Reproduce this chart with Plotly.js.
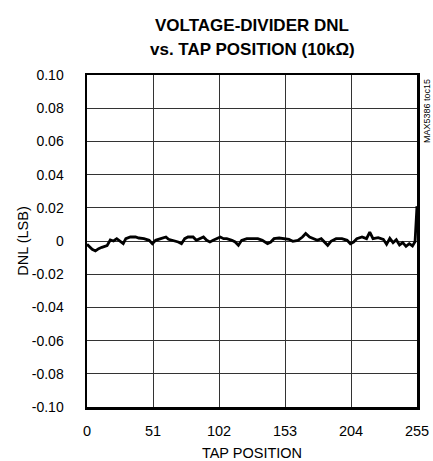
<!DOCTYPE html>
<html>
<head>
<meta charset="utf-8">
<script src="https://cdn.plot.ly/plotly-3.0.1.min.js"></script>
<style>html,body{margin:0;padding:0;background:#fff;}#chart{width:433px;height:461px;}</style>
</head>
<body>
<div id="chart"></div>
<script>
const tapPosition = [0, 2, 4, 6.5, 9, 11.5, 15.5, 18, 20.5, 23, 26, 28, 30, 33.5, 37.5, 40, 44, 48, 50.5, 53, 57, 61,
  63, 66.5, 70.5, 73, 75.5, 78, 82, 84.5, 87, 90, 92.5, 95, 97.5, 100, 103, 105.5, 108, 112, 114.5, 117, 119.5, 123.5, 128,
  132, 135.5, 139.5, 142, 144.5, 148.5, 152.5, 156, 159, 163, 166.5, 169, 172, 174.5, 178, 181, 183.5, 186, 188.5, 192.5,
  197, 201, 203.5, 206, 208.5, 212.5, 216, 218.5, 221, 225, 229, 231.5, 234, 236.5, 239, 241.5, 244, 246.5, 249, 251.5, 253.5, 255];
const dnlLSB = [-0.0020, -0.0036, -0.0050, -0.0060, -0.0046, -0.0038, -0.0028, 0.0006, 0.0000, 0.0014, -0.0006, -0.0016, 0.0014, 0.0024, 0.0024, 0.0018, 0.0014, 0.0004, -0.0016, 0.0004, 0.0014, 0.0024,
  0.0010, 0.0004, -0.0006, -0.0016, 0.0014, 0.0024, 0.0024, 0.0004, 0.0014, 0.0024, 0.0004, -0.0006, 0.0004, 0.0014, 0.0024, 0.0014, 0.0014, 0.0004, -0.0006, -0.0026, 0.0004, 0.0014, 0.0012,
  0.0014, 0.0004, -0.0016, -0.0006, 0.0014, 0.0018, 0.0014, 0.0010, -0.0002, 0.0004, 0.0024, 0.0045, 0.0024, 0.0014, 0.0004, 0.0014, -0.0006, -0.0026, -0.0002, 0.0014,
  0.0014, 0.0004, -0.0016, -0.0006, 0.0014, 0.0024, 0.0014, 0.0054, 0.0014, 0.0020, 0.0010, -0.0020, 0.0016, -0.0010, 0.0008, -0.0024, -0.0010, -0.0032, -0.0016, -0.0030, -0.0004, 0.0210];
const xTickVals = [0, 51, 102, 153, 204, 255];
const xTickText = ['0', '51', '102', '153', '204', '255'];
const yTickVals = [0.10, 0.08, 0.06, 0.04, 0.02, 0, -0.02, -0.04, -0.06, -0.08, -0.10];
const yTickText = ['0.10', '0.08', '0.06', '0.04', '0.02', '0', '-0.02', '-0.04', '-0.06', '-0.08', '-0.10'];
const titleLines = ['VOLTAGE-DIVIDER DNL', 'vs. TAP POSITION (10kΩ)'];

const FONT = '"Liberation Sans", Arial, sans-serif';

const trace = {
  x: tapPosition, y: dnlLSB, type: 'scatter', mode: 'lines',
  line: {color: '#000', width: 2.8, shape: 'linear'},
  hoverinfo: 'skip', showlegend: false
};

const layout = {
  width: 433, height: 461,
  margin: {l: 87, r: 16, t: 75, b: 54, pad: 0},
  paper_bgcolor: '#fff', plot_bgcolor: '#fff',
  font: {family: FONT, size: 14, color: '#000'},
  xaxis: {
    range: [0, 255], tickvals: xTickVals, ticktext: xTickText,
    showgrid: true, gridcolor: '#333', gridwidth: 1,
    zeroline: false, showline: true, linecolor: '#000', linewidth: 2.5, mirror: true,
    ticks: '', ticklabelstandoff: 9,
    tickfont: {family: FONT, size: 14.5, color: '#000'},
    title: {text: 'TAP POSITION', font: {family: FONT, size: 14.5, color: '#000'}, standoff: 13}
  },
  yaxis: {
    range: [-0.10, 0.10], tickvals: yTickVals, ticktext: yTickText,
    showgrid: true, gridcolor: '#333', gridwidth: 1,
    zeroline: false, showline: true, linecolor: '#000', linewidth: 2.5, mirror: true,
    ticks: '', ticklabelstandoff: 18,
    tickfont: {family: FONT, size: 14, color: '#000'},
    title: {text: 'DNL (LSB)', font: {family: FONT, size: 14.5, color: '#000'}, standoff: 0}
  },
  annotations: [
    {
      text: '<b>' + titleLines[0] + '</b>', xref: 'paper', yref: 'paper', x: 0.5, y: 1,
      xanchor: 'center', yanchor: 'middle', yshift: 50, showarrow: false,
      font: {family: FONT, size: 17, color: '#000'}
    },
    {
      text: '<b>' + titleLines[1] + '</b>', xref: 'paper', yref: 'paper', x: 0.5, y: 1,
      xanchor: 'center', yanchor: 'middle', yshift: 26, showarrow: false,
      font: {family: FONT, size: 17, color: '#000'}
    },
    {
      text: 'MAX5386 toc15', xref: 'paper', yref: 'paper', x: 1, y: 1,
      xanchor: 'left', yanchor: 'top', xshift: 3, yshift: -2, textangle: -90, showarrow: false,
      font: {family: FONT, size: 9, color: '#000'}
    }
  ]
};

Plotly.newPlot('chart', [trace], layout, {staticPlot: true, displayModeBar: false});
</script>
</body>
</html>
